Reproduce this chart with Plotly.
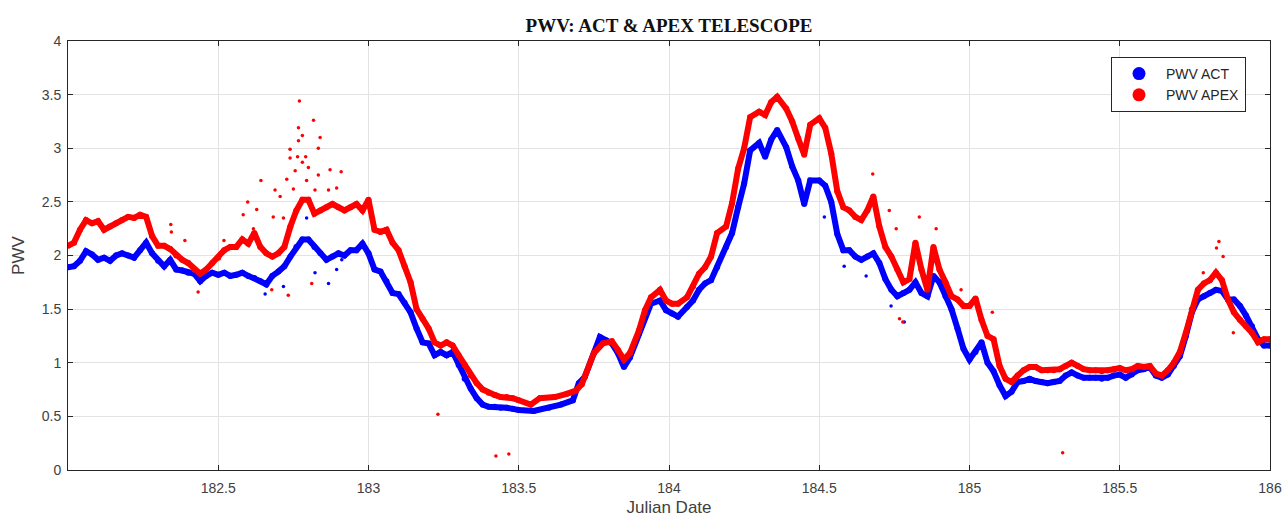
import plotly.graph_objects as go

# ---- data ----
act_day = [182.00, 182.02, 182.04, 182.06, 182.08, 182.10, 182.12, 182.14, 182.16, 182.18,
           182.20, 182.22, 182.24, 182.26, 182.28, 182.30, 182.32, 182.34, 182.36, 182.38,
           182.40, 182.42, 182.44, 182.46, 182.48, 182.50, 182.52, 182.54, 182.56, 182.58,
           182.60, 182.62, 182.64, 182.66, 182.68, 182.70, 182.72, 182.74, 182.76, 182.78,
           182.80, 182.82, 182.84, 182.86, 182.88, 182.90, 182.92, 182.94, 182.96, 182.98,
           183.00, 183.02, 183.04, 183.06, 183.08, 183.10, 183.12, 183.14, 183.16, 183.18,
           183.20, 183.22, 183.24, 183.26, 183.28, 183.30, 183.32, 183.34, 183.36, 183.38,
           183.40, 183.42, 183.44, 183.46, 183.48, 183.50, 183.55, 183.60, 183.64, 183.68,
           183.70, 183.72, 183.75, 183.77, 183.79, 183.81, 183.83, 183.85, 183.87, 183.90,
           183.92, 183.94, 183.97, 183.99, 184.01, 184.03, 184.06, 184.08, 184.10, 184.12,
           184.14, 184.16, 184.19, 184.21, 184.23, 184.25, 184.27, 184.30, 184.32, 184.34,
           184.36, 184.39, 184.41, 184.43, 184.45, 184.47, 184.50, 184.52, 184.54, 184.56,
           184.58, 184.60, 184.62, 184.64, 184.66, 184.68, 184.70, 184.72, 184.74, 184.76,
           184.78, 184.80, 184.82, 184.84, 184.86, 184.88, 184.90, 184.92, 184.94, 184.96,
           184.98, 185.00, 185.02, 185.04, 185.06, 185.08, 185.10, 185.12, 185.14, 185.16,
           185.18, 185.20, 185.22, 185.24, 185.26, 185.28, 185.30, 185.32, 185.34, 185.36,
           185.38, 185.40, 185.42, 185.44, 185.46, 185.48, 185.50, 185.52, 185.54, 185.56,
           185.58, 185.60, 185.62, 185.64, 185.66, 185.68, 185.70, 185.72, 185.74, 185.76,
           185.78, 185.80, 185.82, 185.84, 185.86, 185.88, 185.90, 185.92, 185.94, 185.96,
           185.98, 186.00]
act_pwv = [1.89, 1.90, 1.95, 2.04, 2.01, 1.96, 1.98, 1.95, 2.00, 2.02,
           2.00, 1.98, 2.05, 2.12, 2.02, 1.95, 1.90, 1.96, 1.87, 1.86,
           1.84, 1.83, 1.76, 1.81, 1.84, 1.82, 1.84, 1.81, 1.82, 1.84,
           1.81, 1.79, 1.76, 1.73, 1.81, 1.85, 1.90, 1.99, 2.08, 2.15,
           2.15, 2.08, 2.02, 1.96, 1.99, 2.02, 2.00, 2.05, 2.05, 2.11,
           2.02, 1.87, 1.85, 1.76, 1.65, 1.64, 1.56, 1.47, 1.32, 1.19,
           1.18, 1.07, 1.10, 1.07, 1.10, 0.98, 0.85, 0.76, 0.67, 0.61,
           0.59, 0.59, 0.58, 0.58, 0.57, 0.56, 0.55, 0.58, 0.61, 0.65,
           0.81, 0.87, 1.09, 1.24, 1.21, 1.18, 1.09, 0.96, 1.05, 1.27,
           1.43, 1.55, 1.58, 1.49, 1.46, 1.43, 1.52, 1.58, 1.68, 1.74,
           1.77, 1.89, 2.08, 2.21, 2.45, 2.67, 2.98, 3.05, 2.92, 3.08,
           3.17, 3.01, 2.83, 2.70, 2.48, 2.70, 2.70, 2.65, 2.50, 2.20,
           2.05, 2.05, 1.99, 1.96, 1.99, 2.02, 1.93, 1.78, 1.68, 1.62,
           1.65, 1.68, 1.75, 1.65, 1.62, 1.81, 1.75, 1.62, 1.50, 1.32,
           1.13, 1.03, 1.10, 1.19, 1.00, 0.92, 0.79, 0.69, 0.73, 0.82,
           0.83, 0.85, 0.83, 0.82, 0.81, 0.82, 0.83, 0.88, 0.91, 0.88,
           0.86, 0.86, 0.86, 0.85, 0.86, 0.88, 0.89, 0.86, 0.89, 0.93,
           0.94, 0.96, 0.88, 0.86, 0.89, 0.97, 1.06, 1.25, 1.47, 1.59,
           1.62, 1.65, 1.68, 1.67, 1.59, 1.59, 1.53, 1.44, 1.34, 1.22,
           1.16, 1.16]

apex_day = [182.00, 182.02, 182.04, 182.06, 182.08, 182.10, 182.12, 182.14, 182.16, 182.18,
            182.20, 182.22, 182.24, 182.26, 182.28, 182.30, 182.32, 182.34, 182.36, 182.38,
            182.40, 182.42, 182.44, 182.46, 182.48, 182.50, 182.52, 182.54, 182.56, 182.58,
            182.60, 182.62, 182.64, 182.66, 182.68, 182.70, 182.72, 182.74, 182.76, 182.78,
            182.80, 182.82, 182.84, 182.86, 182.88, 182.90, 182.92, 182.94, 182.96, 182.98,
            183.00, 183.02, 183.04, 183.06, 183.08, 183.10, 183.12, 183.14, 183.16, 183.18,
            183.20, 183.22, 183.24, 183.26, 183.28, 183.30, 183.32, 183.34, 183.36, 183.38,
            183.40, 183.42, 183.44, 183.46, 183.48, 183.50, 183.54, 183.57, 183.62, 183.66,
            183.69, 183.71, 183.75, 183.78, 183.81, 183.83, 183.85, 183.87, 183.90, 183.92,
            183.94, 183.97, 183.99, 184.01, 184.03, 184.06, 184.08, 184.10, 184.12, 184.14,
            184.16, 184.19, 184.21, 184.23, 184.25, 184.27, 184.30, 184.32, 184.34, 184.36,
            184.39, 184.41, 184.43, 184.45, 184.47, 184.50, 184.52, 184.54, 184.56, 184.58,
            184.60, 184.62, 184.64, 184.66, 184.68, 184.70, 184.72, 184.74, 184.76, 184.78,
            184.80, 184.82, 184.84, 184.86, 184.88, 184.90, 184.92, 184.94, 184.96, 184.98,
            185.00, 185.02, 185.04, 185.06, 185.08, 185.10, 185.12, 185.14, 185.16, 185.18,
            185.20, 185.22, 185.24, 185.26, 185.28, 185.30, 185.32, 185.34, 185.36, 185.38,
            185.40, 185.42, 185.44, 185.46, 185.48, 185.50, 185.52, 185.54, 185.56, 185.58,
            185.60, 185.62, 185.64, 185.66, 185.68, 185.70, 185.72, 185.74, 185.76, 185.78,
            185.80, 185.82, 185.84, 185.86, 185.88, 185.90, 185.92, 185.94, 185.96, 185.98,
            186.00]
apex_pwv = [2.09, 2.12, 2.24, 2.33, 2.30, 2.32, 2.24, 2.27, 2.30, 2.33,
            2.36, 2.35, 2.38, 2.36, 2.18, 2.09, 2.09, 2.06, 2.00, 1.96,
            1.93, 1.87, 1.83, 1.87, 1.93, 1.98, 2.05, 2.08, 2.08, 2.15,
            2.11, 2.21, 2.08, 2.02, 1.99, 2.02, 2.08, 2.27, 2.42, 2.52,
            2.52, 2.39, 2.42, 2.45, 2.48, 2.45, 2.42, 2.45, 2.48, 2.42,
            2.52, 2.24, 2.22, 2.24, 2.12, 2.05, 1.90, 1.75, 1.50, 1.41,
            1.32, 1.19, 1.16, 1.19, 1.16, 1.07, 0.98, 0.88, 0.81, 0.75,
            0.72, 0.70, 0.68, 0.68, 0.67, 0.65, 0.61, 0.67, 0.68, 0.71,
            0.74, 0.80, 1.09, 1.18, 1.20, 1.12, 1.03, 1.09, 1.30, 1.49,
            1.61, 1.68, 1.58, 1.55, 1.55, 1.61, 1.71, 1.83, 1.89, 1.99,
            2.21, 2.27, 2.49, 2.81, 3.00, 3.29, 3.34, 3.31, 3.43, 3.48,
            3.37, 3.25, 3.09, 2.94, 3.22, 3.28, 3.19, 2.95, 2.60, 2.45,
            2.42, 2.36, 2.33, 2.42, 2.55, 2.27, 2.08, 1.99, 1.87, 1.75,
            1.78, 2.12, 1.87, 1.68, 2.08, 1.87, 1.75, 1.62, 1.59, 1.53,
            1.53, 1.60, 1.40, 1.25, 1.22, 0.97, 0.85, 0.82, 0.88, 0.93,
            0.96, 0.96, 0.93, 0.93, 0.93, 0.94, 0.97, 1.00, 0.97, 0.94,
            0.93, 0.93, 0.92, 0.93, 0.94, 0.95, 0.93, 0.94, 0.97, 0.96,
            0.97, 0.90, 0.88, 0.93, 1.00, 1.10, 1.28, 1.50, 1.68, 1.74,
            1.77, 1.84, 1.77, 1.59, 1.47, 1.40, 1.34, 1.28, 1.19, 1.22,
            1.22]

# scattered (noisy) readings
apex_scatter_day = [182.342, 182.344, 182.389, 182.433, 182.519, 182.583, 182.598, 182.617,
                    182.628, 182.642, 182.678, 182.683, 182.689, 182.706, 182.717, 182.728,
                    182.733, 182.739, 182.739, 182.750, 182.756, 182.764, 182.767, 182.767,
                    182.770, 182.780, 182.780, 182.791, 182.794, 182.800, 182.811, 182.817,
                    182.822, 182.833, 182.833, 182.839, 182.867, 182.872, 182.894, 182.909,
                    183.231, 183.424, 183.467, 184.678, 184.733, 184.756, 184.767, 184.778,
                    184.833, 184.889, 184.972, 185.076, 185.310, 185.778, 185.822, 185.830,
                    185.844, 185.878]
apex_scatter_pwv = [2.29, 2.22, 2.14, 1.66, 2.14, 2.38, 2.50, 2.25,
                    2.43, 2.70, 1.68, 2.36, 2.61, 2.55, 2.35, 2.71,
                    1.63, 2.99, 2.91, 2.62, 2.79, 2.92, 3.19, 3.07,
                    3.44, 3.12, 2.87, 2.92, 2.70, 2.82, 1.74, 3.26,
                    2.61, 3.00, 2.75, 3.10, 2.61, 2.80, 2.63, 2.78,
                    0.52, 0.13, 0.15, 2.76, 2.42, 2.25, 1.41, 1.38,
                    2.36, 2.25, 1.68, 1.47, 0.16, 1.84, 2.07, 2.13,
                    1.99, 1.28]
act_scatter_day = [182.656, 182.717, 182.794, 182.822, 182.867, 182.894, 182.911,
                   184.517, 184.583, 184.656, 184.739, 184.783]
act_scatter_pwv = [1.64, 1.71, 2.35, 1.84, 1.74, 1.87, 1.96,
                   2.36, 1.90, 1.81, 1.53, 1.38]

BLUE = "#0000ff"
RED = "#ff0000"
FONT = "Arial, Liberation Sans, sans-serif"

fig = go.Figure()
fig.add_trace(go.Scatter(x=act_day, y=act_pwv, mode="lines+markers",
                         line=dict(color=BLUE, width=6),
                         marker=dict(color=BLUE, size=6), showlegend=False))
fig.add_trace(go.Scatter(x=act_scatter_day, y=act_scatter_pwv, mode="markers",
                         marker=dict(color=BLUE, size=3.5), showlegend=False))
fig.add_trace(go.Scatter(x=apex_day, y=apex_pwv, mode="lines+markers",
                         line=dict(color=RED, width=6),
                         marker=dict(color=RED, size=6), showlegend=False))
fig.add_trace(go.Scatter(x=apex_scatter_day, y=apex_scatter_pwv, mode="markers",
                         marker=dict(color=RED, size=3.5), showlegend=False))
# legend entries
fig.add_trace(go.Scatter(x=[None], y=[None], mode="markers", name="PWV ACT",
                         marker=dict(color=BLUE, size=13)))
fig.add_trace(go.Scatter(x=[None], y=[None], mode="markers", name="PWV APEX",
                         marker=dict(color=RED, size=13)))

axis_common = dict(showline=True, linecolor="#262626", linewidth=1, mirror="ticks",
                   ticks="inside", ticklen=5, tickcolor="#262626", automargin=False,
                   showgrid=True, gridcolor="#e3e3e3", gridwidth=1, zeroline=False,
                   tickfont=dict(family=FONT, size=14, color="#404040"))

fig.update_layout(
    width=1286, height=523,
    margin=dict(l=68, r=16, t=41, b=53),
    paper_bgcolor="white", plot_bgcolor="white",
    title=dict(text="<b>PWV: ACT &amp; APEX TELESCOPE</b>", x=(68 + 1270) / 2 / 1286,
               xanchor="center", y=1 - 25 / 523, yanchor="middle", automargin=False,
               font=dict(family="Liberation Serif, Times New Roman, serif", size=19,
                         color="#111111")),
    xaxis=dict(range=[182.0, 186.0], tickvals=[182.5, 183, 183.5, 184, 184.5, 185, 185.5, 186],
               ticktext=["182.5", "183", "183.5", "184", "184.5", "185", "185.5", "186"],
               ticklabelstandoff=5,
               title=dict(text="Julian Date", standoff=6,
                          font=dict(family=FONT, size=17, color="#404040")),
               **axis_common),
    yaxis=dict(range=[0, 4], tickvals=[0, 0.5, 1, 1.5, 2, 2.5, 3, 3.5, 4],
               ticktext=["0", "0.5", "1", "1.5", "2", "2.5", "3", "3.5", "4"],
               ticklabelstandoff=3,
               title=dict(text="PWV", standoff=12,
                          font=dict(family=FONT, size=17, color="#404040")),
               **axis_common),
    legend=dict(x=(1111 - 68) / 1202, y=1 - (57 - 41) / 429, xanchor="left", yanchor="top",
                bgcolor="white", bordercolor="#262626", borderwidth=1,
                font=dict(family=FONT, size=14, color="#262626"),
                tracegroupgap=0, itemsizing="trace", itemwidth=44),
)

fig.write_html("out.html", config={"displayModeBar": False},
               post_script="document.body.style.margin='0';"
                           "document.body.style.overflow='hidden';")
